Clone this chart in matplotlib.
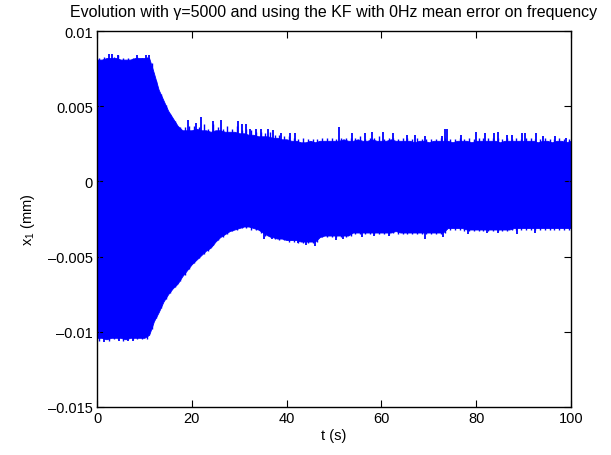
import matplotlib
matplotlib.use('Agg')
import matplotlib.pyplot as plt
import numpy as np

plt.rcParams['font.family'] = ['Liberation Sans', 'DejaVu Sans']
plt.rcParams['mathtext.default'] = 'regular'

# time axis (s), one envelope sample per second
t = np.arange(0, 101)

# typical upper edge of the x_1 band (mm)
x1_upper = [
    0.0081, 0.0081, 0.0082, 0.0082, 0.0082, 0.0081, 0.0081, 0.0081, 0.0082, 0.0082,
    0.0082, 0.0082, 0.0072, 0.0061, 0.0054, 0.0047, 0.0042, 0.0037, 0.0034, 0.0034,
    0.0034, 0.0035, 0.0034, 0.0034, 0.0033, 0.0034, 0.0034, 0.0033, 0.0033, 0.0033,
    0.0032, 0.0032, 0.0031, 0.0031, 0.0030, 0.0030, 0.0030, 0.0029, 0.0029, 0.0028,
    0.0028, 0.0027, 0.0027, 0.0026, 0.0026, 0.0027, 0.0026, 0.0027, 0.0027, 0.0027,
    0.0027, 0.0027, 0.0028, 0.0027, 0.0027, 0.0028, 0.0027, 0.0027, 0.0028, 0.0027,
    0.0027, 0.0027, 0.0028, 0.0027, 0.0027, 0.0027, 0.0027, 0.0026, 0.0027, 0.0027,
    0.0026, 0.0027, 0.0027, 0.0027, 0.0027, 0.0026, 0.0027, 0.0027, 0.0027, 0.0026,
    0.0027, 0.0027, 0.0027, 0.0027, 0.0027, 0.0026, 0.0027, 0.0027, 0.0027, 0.0027,
    0.0027, 0.0027, 0.0027, 0.0026, 0.0027, 0.0027, 0.0026, 0.0027, 0.0027, 0.0026,
    0.0027,
]

# typical lower edge of the x_1 band (mm)
x1_lower = [
    -0.0104, -0.0104, -0.0105, -0.0104, -0.0104, -0.0104, -0.0105, -0.0104, -0.0104, -0.0104,
    -0.0104, -0.0102, -0.0093, -0.0087, -0.0080, -0.0075, -0.0071, -0.0068, -0.0063, -0.0059,
    -0.0055, -0.0052, -0.0049, -0.0046, -0.0044, -0.0040, -0.0037, -0.0035, -0.0033, -0.0032,
    -0.0031, -0.0030, -0.0030, -0.0031, -0.0032, -0.0034, -0.0036, -0.0037, -0.0038, -0.0038,
    -0.0039, -0.0039, -0.0039, -0.0040, -0.0040, -0.0040, -0.0040, -0.0037, -0.0036, -0.0036,
    -0.0036, -0.0036, -0.0036, -0.0036, -0.0034, -0.0034, -0.0034, -0.0034, -0.0034, -0.0034,
    -0.0034, -0.0034, -0.0034, -0.0033, -0.0034, -0.0034, -0.0034, -0.0034, -0.0034, -0.0034,
    -0.0034, -0.0034, -0.0034, -0.0034, -0.0031, -0.0031, -0.0031, -0.0031, -0.0032, -0.0032,
    -0.0032, -0.0032, -0.0032, -0.0032, -0.0032, -0.0032, -0.0032, -0.0032, -0.0031, -0.0031,
    -0.0031, -0.0031, -0.0031, -0.0031, -0.0031, -0.0031, -0.0031, -0.0031, -0.0031, -0.0031,
    -0.0031,
]

# small ragged bumps along the edges, one per second (t + 0.5)
x1_upper_ragged = [
    0.0082, 0.0083, 0.0082, 0.0083, 0.0084, 0.0082, 0.0082, 0.0082, 0.0083, 0.0082,
    0.0083, 0.0079, 0.0067, 0.0058, 0.0051, 0.0045, 0.0040, 0.0036, 0.0036, 0.0037,
    0.0037, 0.0036, 0.0038, 0.0035, 0.0038, 0.0036, 0.0035, 0.0037, 0.0035, 0.0037,
    0.0034, 0.0035, 0.0034, 0.0033, 0.0033, 0.0032, 0.0033, 0.0031, 0.0031, 0.0030,
    0.0030, 0.0029, 0.0028, 0.0029, 0.0028, 0.0028, 0.0028, 0.0029, 0.0029, 0.0029,
    0.0028, 0.0029, 0.0029, 0.0029, 0.0029, 0.0030, 0.0028, 0.0029, 0.0029, 0.0030,
    0.0028, 0.0029, 0.0029, 0.0028, 0.0029, 0.0029, 0.0028, 0.0029, 0.0028, 0.0028,
    0.0028, 0.0028, 0.0029, 0.0029, 0.0028, 0.0028, 0.0029, 0.0028, 0.0029, 0.0028,
    0.0029, 0.0029, 0.0029, 0.0029, 0.0029, 0.0028, 0.0029, 0.0028, 0.0029, 0.0028,
    0.0029, 0.0029, 0.0028, 0.0028, 0.0029, 0.0028, 0.0028, 0.0029, 0.0028, 0.0028,
]
x1_lower_ragged = [
    -0.0106, -0.0105, -0.0106, -0.0105, -0.0105, -0.0106, -0.0105, -0.0105, -0.0105, -0.0105,
    -0.0105, -0.0098, -0.0091, -0.0084, -0.0078, -0.0074, -0.0070, -0.0066, -0.0062, -0.0058,
    -0.0054, -0.0051, -0.0048, -0.0046, -0.0042, -0.0039, -0.0037, -0.0035, -0.0033, -0.0032,
    -0.0031, -0.0031, -0.0032, -0.0032, -0.0034, -0.0036, -0.0037, -0.0038, -0.0039, -0.0039,
    -0.0040, -0.0040, -0.0041, -0.0041, -0.0041, -0.0041, -0.0040, -0.0037, -0.0037, -0.0037,
    -0.0037, -0.0037, -0.0037, -0.0036, -0.0035, -0.0035, -0.0035, -0.0035, -0.0035, -0.0035,
    -0.0035, -0.0035, -0.0034, -0.0035, -0.0035, -0.0035, -0.0035, -0.0035, -0.0035, -0.0035,
    -0.0035, -0.0035, -0.0035, -0.0034, -0.0032, -0.0032, -0.0032, -0.0033, -0.0033, -0.0033,
    -0.0033, -0.0033, -0.0033, -0.0033, -0.0033, -0.0033, -0.0033, -0.0032, -0.0032, -0.0032,
    -0.0032, -0.0032, -0.0032, -0.0032, -0.0032, -0.0032, -0.0032, -0.0032, -0.0032, -0.0032,
]

# isolated peaks sticking out of the band
upper_peak_t = [2.5, 3.2, 4.5, 8.4, 10.3, 11.0, 19.3, 20.9, 22.0, 24.5, 26.2, 29.7, 30.5,
                31.5, 32.3, 33.5, 34.7, 36.0, 37.1, 38.8, 40.7, 41.7, 51.0, 53.7, 56.5,
                58.1, 60.4, 62.5, 65.3, 67.0, 69.2, 72.7, 73.4, 73.8, 76.9, 80.0, 81.8,
                83.8, 84.5, 86.5, 87.6, 89.6, 90.2, 92.6, 94.0, 96.6, 99.0]
upper_peak_v = [0.0085, 0.0085, 0.0084, 0.0084, 0.0084, 0.0084, 0.0041, 0.0039, 0.0043,
                0.0040, 0.0041, 0.0040, 0.0038, 0.0038, 0.0035, 0.0035, 0.0035, 0.0035,
                0.0034, 0.0032, 0.0032, 0.0032, 0.0036, 0.0032, 0.0032, 0.0033, 0.0033,
                0.0032, 0.0031, 0.0031, 0.0030, 0.0030, 0.0035, 0.0035, 0.0031, 0.0033,
                0.0032, 0.0032, 0.0033, 0.0031, 0.0031, 0.0032, 0.0032, 0.0032, 0.0030,
                0.0030, 0.0029]

lower_peak_t = [1.4, 4.7, 6.5, 7.5, 35.3, 37.0, 39.7, 42.5, 44.0, 46.0, 50.5, 52.0, 56.0,
                58.5, 61.7, 69.2, 73.0, 78.3, 82.3, 84.7, 88.6, 92.5]
lower_peak_v = [-0.0107, -0.0106, -0.0106, -0.0106, -0.0038, -0.0038, -0.0038, -0.0041,
                -0.0042, -0.0043, -0.0039, -0.0038, -0.0037, -0.0036, -0.0036, -0.0038,
                -0.0037, -0.0035, -0.0034, -0.0034, -0.0035, -0.0034]

x_ticks = [0, 20, 40, 60, 80, 100]
y_ticks = [-0.015, -0.01, -0.005, 0, 0.005, 0.01]
y_ticklabels = ['\u20130.015', '\u20130.01', '\u20130.005', '0', '0.005', '0.01']

blue = '#0000ff'

fig = plt.figure(figsize=(6.11, 4.56), dpi=100)
ax = fig.add_axes([0.1588, 0.1053, 0.7757, 0.8245])

# the signal oscillates too fast to resolve, so it shows as a solid band
ax.fill_between(t, x1_lower, x1_upper, color=blue, linewidth=0.6, edgecolor=blue)
t_mid = t[:-1] + 0.5
ax.vlines(t_mid, 0, x1_upper_ragged, color=blue, linewidth=1.0)
ax.vlines(t_mid, x1_lower_ragged, 0, color=blue, linewidth=1.0)
ax.vlines(upper_peak_t, 0, upper_peak_v, color=blue, linewidth=1.3)
ax.vlines(lower_peak_t, lower_peak_v, 0, color=blue, linewidth=1.3)

ax.set_xlim(0, 100)
ax.set_ylim(-0.015, 0.01)
ax.set_xticks(x_ticks)
ax.set_yticks(y_ticks)
ax.set_yticklabels(y_ticklabels)
ax.tick_params(direction='in', top=True, right=True, length=5, width=0.8, labelsize=10.5, pad=3)
for s in ax.spines.values():
    s.set_linewidth(1.0)

ax.set_title('Evolution with \u03b3=5000 and using the KF with 0Hz mean error on frequency',
             fontsize=11.5, pad=11)
ax.set_xlabel('t (s)', fontsize=10.5, labelpad=2)
ax.set_ylabel('x$_1$ (mm)', fontsize=10.5, labelpad=8)

fig.savefig('out.png', dpi=100)
